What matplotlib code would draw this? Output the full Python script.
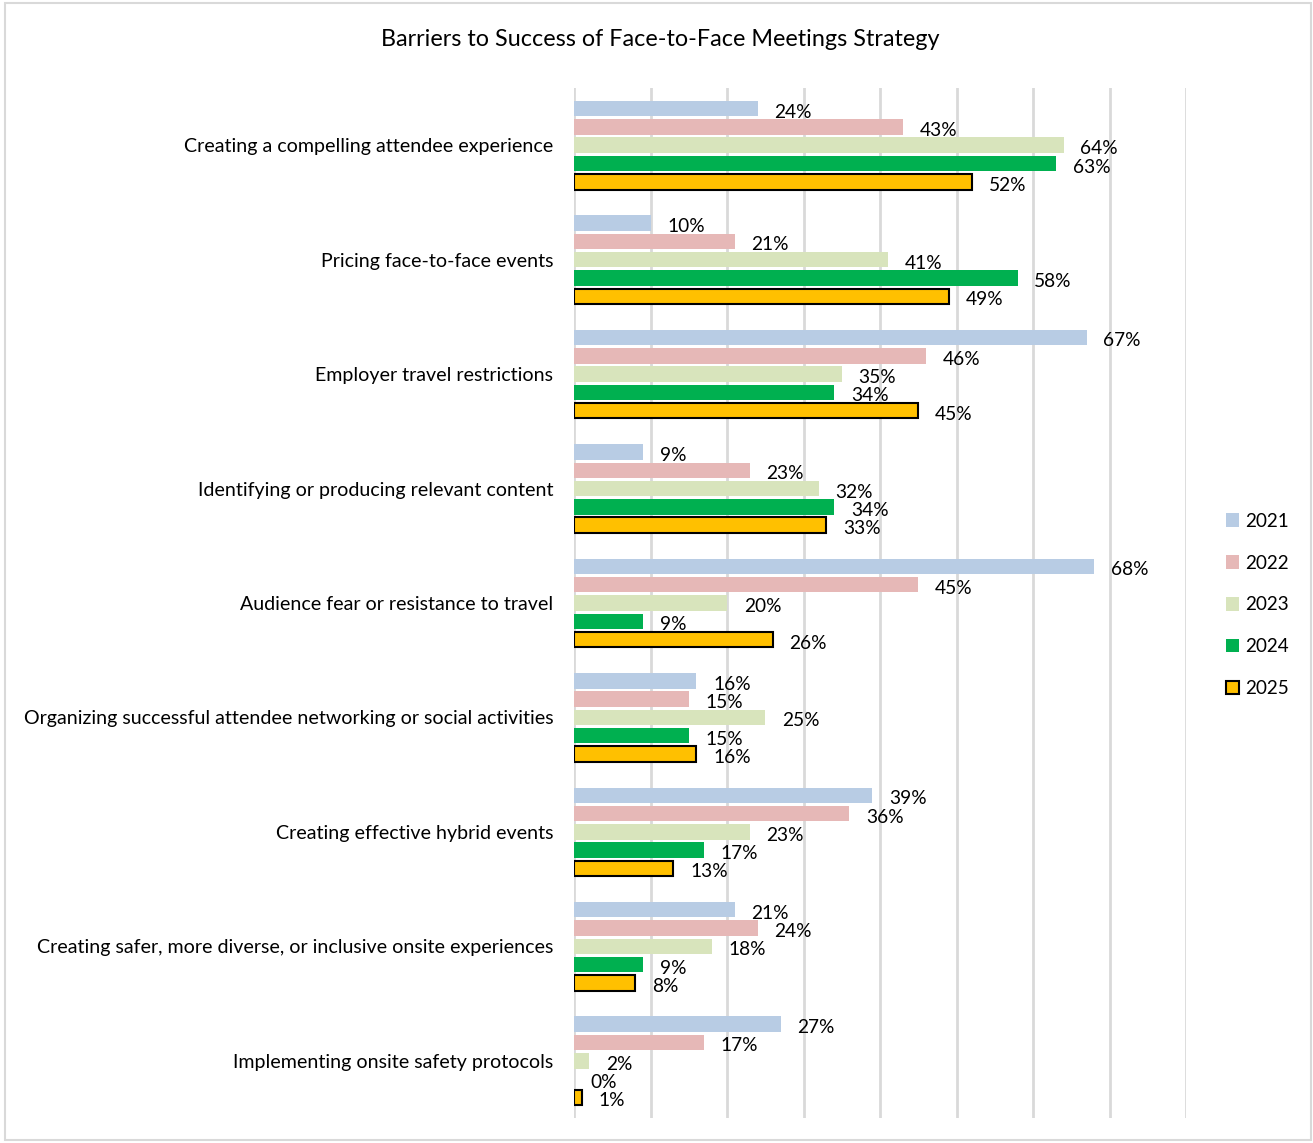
import matplotlib
matplotlib.use("Agg")
import matplotlib.pyplot as plt
from matplotlib.patches import Patch, Rectangle
import numpy as np

plt.rcParams['font.family'] = ['Lato', 'DejaVu Sans']

categories = [
    "Creating a compelling attendee experience",
    "Pricing face-to-face events",
    "Employer travel restrictions",
    "Identifying or producing relevant content",
    "Audience fear or resistance to travel",
    "Organizing successful attendee networking or social activities",
    "Creating effective hybrid events",
    "Creating safer, more diverse, or inclusive onsite experiences",
    "Implementing onsite safety protocols",
]
years = ["2021", "2022", "2023", "2024", "2025"]
v2021 = [24, 10, 67, 9, 68, 16, 39, 21, 27]
v2022 = [43, 21, 46, 23, 45, 15, 36, 24, 17]
v2023 = [64, 41, 35, 32, 20, 25, 23, 18, 2]
v2024 = [63, 58, 34, 34, 9, 15, 17, 9, 0]
v2025 = [52, 49, 45, 33, 26, 16, 13, 8, 1]
series = [v2021, v2022, v2023, v2024, v2025]

colors = ["#B8CCE4", "#E6B8B7", "#D8E4BC", "#00B050", "#FFC000"]
edges = ["none", "none", "none", "none", "black"]

fig = plt.figure(figsize=(13.13, 11.43), dpi=100)
ax = fig.add_axes([574/1313, 1 - 1118/1143, (1186-574)/1313, (1118-88)/1143])

n = len(categories)
y = np.arange(n)
step = 0.16
bar_h = 0.135
for i, (vals, c, ec) in enumerate(zip(series, colors, edges)):
    pos = y + (i - 2) * step
    ax.barh(pos, vals, height=bar_h, color=c,
            edgecolor=ec, linewidth=1.5 if ec != "none" else 0, zorder=3)
    for p, v in zip(pos, vals):
        ax.annotate(f"{v}%", xy=(v, p), xytext=(12, -2.5), textcoords="offset points",
                    ha="left", va="center", fontsize=13.8, color="#000000", zorder=4)

ax.set_xlim(0, 80)
ax.set_ylim(n - 0.5, -0.5)
ax.set_xticks(np.arange(0, 81, 10))
ax.xaxis.grid(True, color="#D9D9D9", linewidth=2, zorder=0)
ax.tick_params(axis="x", length=0, labelbottom=False)
ax.set_yticks(y)
ax.set_yticklabels(categories, fontsize=14.1)
ax.tick_params(axis="y", length=0, pad=15)
for s in ax.spines.values():
    s.set_visible(False)

fig.text(660/1313, 1 - 40/1143, "Barriers to Success of Face-to-Face Meetings Strategy",
         ha="center", va="center", fontsize=16.8)

handles = [Patch(facecolor=c, edgecolor=(e if e != "none" else c),
                 linewidth=1.5 if e != "none" else 0) for c, e in zip(colors, edges)]
fig.legend(handles, years, loc="center left", bbox_to_anchor=(1209/1313, 1 - 605/1143),
           frameon=False, fontsize=13.6, handlelength=0.7, handleheight=0.7,
           handletextpad=0.3, labelspacing=1.32)

fig.patches.append(Rectangle((5/1313, 1 - 1140/1143), 1306/1313, 1137/1143,
                             transform=fig.transFigure, fill=False,
                             edgecolor="#D9D9D9", linewidth=1.5))

fig.savefig("out.png", dpi=100)
